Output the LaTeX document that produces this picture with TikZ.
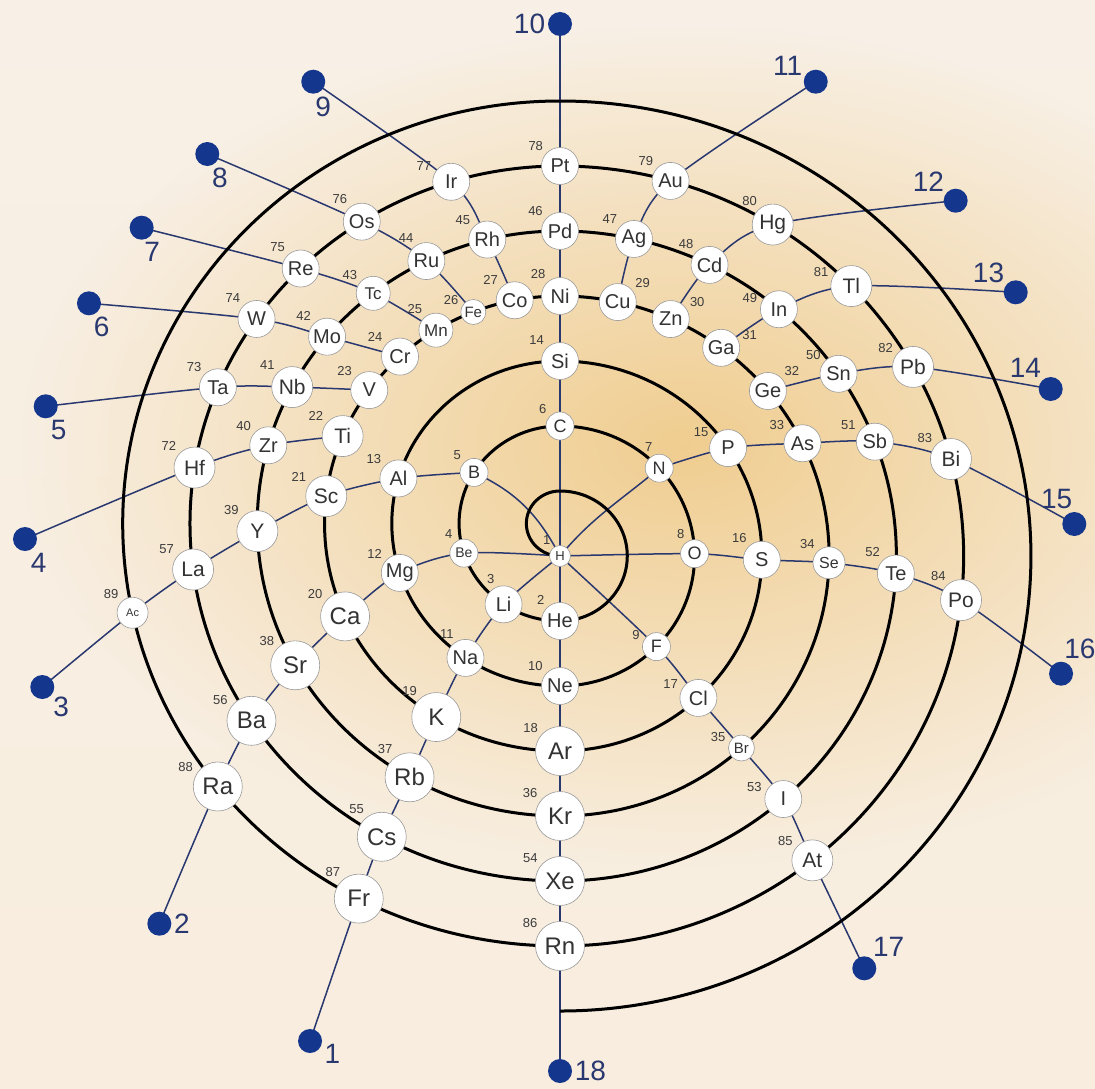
\documentclass[tikz,border=0pt]{standalone}
\usepackage{fontspec}
\setmainfont{Liberation Sans}
\usepackage{tikz}
\usetikzlibrary{calc,backgrounds,fadings}
\definecolor{papertop}{RGB}{248,240,230}
\definecolor{papermid}{RGB}{244,223,182}
\definecolor{paperbot}{RGB}{248,237,222}
\definecolor{glow}{RGB}{239,202,135}
\definecolor{dotblue}{RGB}{20,54,140}
\definecolor{linkblue}{RGB}{42,56,112}
\definecolor{numgray}{RGB}{60,60,60}
\pgfdeclarelayer{bgpaper}
\pgfdeclarelayer{lines}
\pgfsetlayers{bgpaper,lines,main}
\tikzfading[name=softglow,inner color=transparent!0,outer color=transparent!100]

\begin{document}
\begin{tikzpicture}[x=1.035pt,y=1pt,label distance=2.5pt,
   el/.style={circle,draw=black!40,fill=white,inner sep=0pt,text=black!80,line width=.6pt},
   tn/.style={el,minimum size=21pt,font=\fontsize{13}{13}\selectfont},
   sm/.style={el,minimum size=28pt,font=\fontsize{18}{18}\selectfont},
   md/.style={el,minimum size=37pt,font=\fontsize{20}{20}\selectfont},
   lg/.style={el,minimum size=41pt,font=\fontsize{21}{21}\selectfont},
   xl/.style={el,minimum size=49pt,font=\fontsize{24}{24}\selectfont},
   num/.style={font=\fontsize{13}{13}\selectfont,text=numgray,inner sep=1pt},
   gdot/.style={circle,fill=dotblue,minimum size=24pt,inner sep=0pt},
   glab/.style={font=\fontsize{28}{28}\selectfont,text=linkblue,inner sep=0pt},
   link/.style={draw=linkblue,line width=1.5pt},
   spiral/.style={draw=black,line width=3pt}]
  \useasboundingbox (-541.06,-532) rectangle (516.9,556);
  \begin{pgfonlayer}{bgpaper}
    \shade[top color=papertop,middle color=papermid,bottom color=paperbot]
      (-541.06,-532) rectangle (516.9,556);
    \fill[glow,opacity=.9,path fading=softglow]
      (120,110) ellipse [x radius=640,y radius=420];
  \end{pgfonlayer}
  \coordinate (c) at (0,32.5);

  % inner shells
  \node[tn,label={[num]129:1}] (H) at (0,0) {H};
  \node[md,label={[num]133:2}] (He) at (-90:65) {He};
  \node[md,label={[num]112:3}] (Li) at ($(c)+(236:97.5)$) {Li};
  \node[sm,font=\fontsize{14}{14}\selectfont,label={[num]128:4}] (Be) at ($(c)+(197.7:97.5)$) {Be};
  \node[sm,label={[num]136:5}] (B) at ($(c)+(148.4:97.5)$) {B};
  \node[sm,label={[num]138:6}] (C) at (90:130) {C};
  \node[sm,label={[num]110:7}] (N) at (42.5:130) {N};
  \node[sm,label={[num]122:8}] (O) at (1:130) {O};
  \node[sm,label={[num]159:9}] (F) at (-44.2:130) {F};
  \node[md,label={[num]140:10}] (Ne) at (-90:130) {Ne};
  \node[md,label={[num]120:11}] (Na) at ($(c)+(235.8:162.5)$) {Na};
  \node[md,label={[num]142:12}] (Mg) at ($(c)+(197.7:162.5)$) {Mg};
  \node[md,label={[num]139:13}] (Al) at ($(c)+(163.9:162.5)$) {Al};
  \node[md,label={[num]135:14}] (Si) at (90:195) {Si};
  \node[md,label={[num]151:15}] (P) at (33.6:195) {P};
  \node[md,label={[num]131:16}] (S) at (-1.1:195) {S};
  \node[md,label={[num]156:17}] (Cl) at (-46.7:195) {Cl};
  \node[xl,label={[num]140:18}] (Ar) at (-90:195) {Ar};

  % period 4
  \node[xl,label={[num]132:19}] (K) at ($(c)+(238.3:227.5)$) {K};
  \node[xl,label={[num]142:20}] (Ca) at ($(c)+(204.1:227.5)$) {Ca};
  \node[lg,label={[num]144:21}] (Sc) at ($(c)+(173.1:227.5)$) {Sc};
  \node[lg,label={[num]142:22}] (Ti) at ($(c)+(157.4:227.5)$) {Ti};
  \node[md,label={[num]140:23}] (V) at ($(c)+(144.1:227.5)$) {V};
  \node[md,label={[num]141:24}] (Cr) at ($(c)+(132.8:227.5)$) {Cr};
  \node[md,minimum size=34pt,font=\fontsize{17}{17}\selectfont,label={[num]130:25}] (Mn) at ($(c)+(121.8:227.5)$) {Mn};
  \node[sm,minimum size=25pt,font=\fontsize{15}{15}\selectfont,label={[num]155:26}] (Fe) at ($(c)+(111.6:227.5)$) {Fe};
  \node[md,label={[num]137:27}] (Co) at ($(c)+(101.1:227.5)$) {Co};
  \node[md,label={[num]129:28}] (Ni) at (90:260) {Ni};
  \node[md,label={[num]40:29}] (Cu) at (77.6:260) {Cu};
  \node[md,label={[num]32:30}] (Zn) at (65.7:260) {Zn};
  \node[md,label={[num]20:31}] (Ga) at (53.2:260) {Ga};
  \node[md,label={[num]43:32}] (Ge) at (39.4:260) {Ge};
  \node[md,label={[num]144:33}] (As) at (25.7:260) {As};
  \node[sm,minimum size=32pt,font=\fontsize{16}{16}\selectfont,label={[num]135:34}] (Se) at (-1.5:260) {Se};
  \node[sm,minimum size=26pt,font=\fontsize{15}{15}\selectfont,label={[num]160:35}] (Br) at (-47.6:260) {Br};
  \node[xl,label={[num]142:36}] (Kr) at (-90:260) {Kr};

  % period 5
  \node[xl,label={[num]126:37}] (Rb) at ($(c)+(240.2:292.5)$) {Rb};
  \node[xl,label={[num]137:38}] (Sr) at ($(c)+(209:292.5)$) {Sr};
  \node[lg,label={[num]139:39}] (Y) at ($(c)+(181.5:292.5)$) {Y};
  \node[md,label={[num]140:40}] (Zr) at ($(c)+(164.5:292.5)$) {Zr};
  \node[lg,label={[num]135:41}] (Nb) at ($(c)+(152.2:292.5)$) {Nb};
  \node[md,label={[num]135:42}] (Mo) at ($(c)+(140.3:292.5)$) {Mo};
  \node[md,minimum size=34pt,font=\fontsize{17}{17}\selectfont,label={[num]139:43}] (Tc) at ($(c)+(128.1:292.5)$) {Tc};
  \node[md,label={[num]124:44}] (Ru) at ($(c)+(116.2:292.5)$) {Ru};
  \node[md,label={[num]139:45}] (Rh) at ($(c)+(103.9:292.5)$) {Rh};
  \node[md,label={[num]139:46}] (Pd) at (90:325) {Pd};
  \node[md,label={[num]137:47}] (Ag) at (77.3:325) {Ag};
  \node[md,label={[num]135:48}] (Cd) at (63.6:325) {Cd};
  \node[md,label={[num]165:49}] (In) at (49.4:325) {In};
  \node[md,label={[num]142:50}] (Sn) at (34.1:325) {Sn};
  \node[md,label={[num]148:51}] (Sb) at (20.6:325) {Sb};
  \node[md,label={[num]134:52}] (Te) at (-3.1:325) {Te};
  \node[md,label={[num]164:53}] (I) at (-48.4:325) {I};
  \node[xl,label={[num]141:54}] (Xe) at (-90:325) {Xe};

  % period 6 and 7
  \node[xl,label={[num]128:55}] (Cs) at ($(c)+(241.2:357.5)$) {Cs};
  \node[xl,label={[num]146:56}] (Ba) at ($(c)+(213.5:357.5)$) {Ba};
  \node[lg,label={[num]141:57}] (La) at ($(c)+(187.4:357.5)$) {La};
  \node[lg,label={[num]138:72}] (Hf) at ($(c)+(171:357.5)$) {Hf};
  \node[md,label={[num]136:73}] (Ta) at ($(c)+(157.6:357.5)$) {Ta};
  \node[md,label={[num]136:74}] (W) at ($(c)+(145.1:357.5)$) {W};
  \node[md,label={[num]133:75}] (Re) at ($(c)+(134.5:357.5)$) {Re};
  \node[md,label={[num]129:76}] (Os) at ($(c)+(122.4:357.5)$) {Os};
  \node[md,label={[num]153:77}] (Ir) at ($(c)+(107.1:357.5)$) {Ir};
  \node[md,label={[num]138:78}] (Pt) at (90:390) {Pt};
  \node[md,label={[num]140:79}] (Au) at (74.1:390) {Au};
  \node[lg,label={[num]129:80}] (Hg) at (58.2:390) {Hg};
  \node[lg,label={[num]159:81}] (Tl) at (43.8:390) {Tl};
  \node[lg,label={[num]145:82}] (Pb) at (29:390) {Pb};
  \node[lg,label={[num]139:83}] (Bi) at (14.4:390) {Bi};
  \node[lg,label={[num]128:84}] (Po) at (-6.5:390) {Po};
  \node[lg,label={[num]143:85}] (At) at (-51.3:390) {At};
  \node[xl,label={[num]142:86}] (Rn) at (-90:390) {Rn};
  \node[xl,label={[num]130:87}] (Fr) at ($(c)+(242.6:422.5)$) {Fr};
  \node[xl,label={[num]150:88}] (Ra) at ($(c)+(218.5:422.5)$) {Ra};
  \node[sm,minimum size=31pt,font=\fontsize{11}{11}\selectfont,label={[num]135:89}] (Ac) at ($(c)+(192.2:422.5)$) {Ac};

  % group ends
  \node[gdot,label={[glab]-10:1}] (d1) at (-241.5,-485) {};
  \node[gdot,label={[glab]right:2}] (d2) at (-387.1,-367.7) {};
  \node[gdot,label={[glab]-42:3}] (d3) at (-500.2,-131) {};
  \node[gdot,label={[glab]-67:4}] (d4) at (-516.9,17) {};
  \node[gdot,label={[glab]-70:5}] (d5) at (-496.9,149.7) {};
  \node[gdot,label={[glab]-71:6}] (d6) at (-455.1,252.7) {};
  \node[gdot,label={[glab]-80:7}] (d7) at (-404.2,328.3) {};
  \node[gdot,label={[glab]-72:8}] (d8) at (-340.8,402) {};
  \node[gdot,label={[glab]-82:9}] (d9) at (-238.4,474.3) {};
  \node[gdot,label={[glab]left:10}] (d10) at (0,532) {};
  \node[gdot,label={[glab]156:11}] (d11) at (247.1,474.3) {};
  \node[gdot,label={[glab]141:12}] (d12) at (382.3,355.3) {};
  \node[gdot,label={[glab]141:13}] (d13) at (440.3,263.7) {};
  \node[gdot,label={[glab]130:14}] (d14) at (474.1,167) {};
  \node[gdot,label={[glab]97:15}] (d15) at (496.9,32) {};
  \node[gdot,label={[glab]78:16}] (d16) at (484.1,-117.7) {};
  \node[gdot,label={[glab]54:17}] (d17) at (294,-412.3) {};
  \node[gdot,label={[glab]right:18}] (d18) at (0,-515) {};

  \begin{pgfonlayer}{lines}
    \draw[link] (d10.center) -- (d18.center);
    \draw[link] plot[smooth] coordinates {(H.center) (Li.center) (Na.center) (K.center) (Rb.center) (Cs.center) (Fr.center) (d1.center)};
    \draw[link] plot[smooth] coordinates {(H.center) (Be.center) (Mg.center) (Ca.center) (Sr.center) (Ba.center) (Ra.center) (d2.center)};
    \draw[link] (H.center) to[out=118,in=-25] (B.center)
      plot[smooth] coordinates {(B.center) (Al.center) (Sc.center) (Y.center) (La.center) (Ac.center) (d3.center)};
    \draw[link] plot[smooth] coordinates {(Ti.center) (Zr.center) (Hf.center) (d4.center)};
    \draw[link] plot[smooth] coordinates {(V.center) (Nb.center) (Ta.center) (d5.center)};
    \draw[link] plot[smooth] coordinates {(Cr.center) (Mo.center) (W.center) (d6.center)};
    \draw[link] plot[smooth] coordinates {(Mn.center) (Tc.center) (Re.center) (d7.center)};
    \draw[link] plot[smooth] coordinates {(Fe.center) (Ru.center) (Os.center) (d8.center)};
    \draw[link] plot[smooth] coordinates {(Co.center) (Rh.center) (Ir.center) (d9.center)};
    \draw[link] plot[smooth] coordinates {(Cu.center) (Ag.center) (Au.center) (d11.center)};
    \draw[link] plot[smooth] coordinates {(Zn.center) (Cd.center) (Hg.center) (d12.center)};
    \draw[link] plot[smooth] coordinates {(Ga.center) (In.center) (Tl.center) (d13.center)};
    \draw[link] plot[smooth] coordinates {(Ge.center) (Sn.center) (Pb.center) (d14.center)};
    \draw[link] (H.center) to[out=50,in=-140] (N.center)
      plot[smooth] coordinates {(N.center) (P.center) (As.center) (Sb.center) (Bi.center) (d15.center)};
    \draw[link] plot[smooth] coordinates {(H.center) (O.center) (S.center) (Se.center) (Te.center) (Po.center) (d16.center)};
    \draw[link] plot[smooth] coordinates {(H.center) (F.center) (Cl.center) (Br.center) (I.center) (At.center) (d17.center)};
    % the spiral itself
    \draw[spiral] (H.center) foreach \k in {0,...,6} {
      arc[start angle=270,end angle=90,radius={32.5+65*\k}]
      arc[start angle=90,end angle=-90,radius={65+65*\k}]};
  \end{pgfonlayer}
\end{tikzpicture}
\end{document}
